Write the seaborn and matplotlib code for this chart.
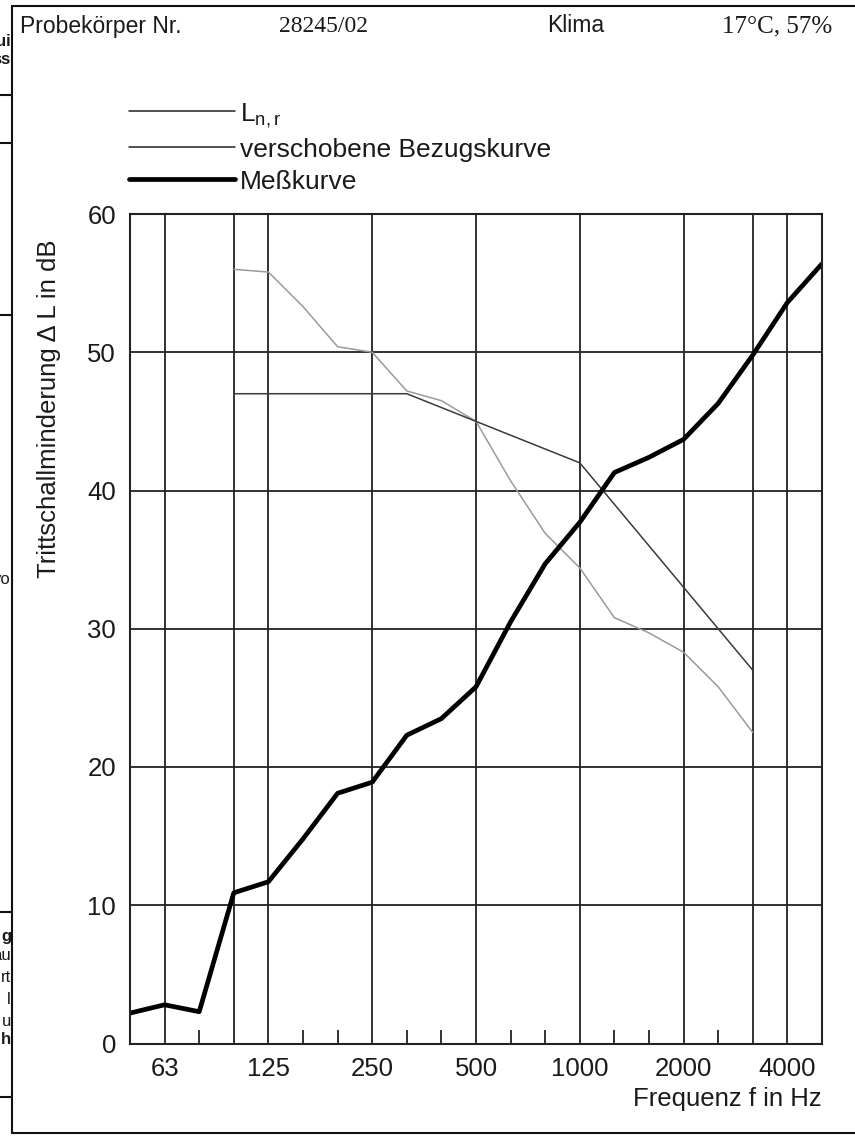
import numpy as np
import pandas as pd
import matplotlib
matplotlib.use("Agg")
import matplotlib.pyplot as plt
from matplotlib.lines import Line2D
from matplotlib import font_manager
import seaborn as sns

# ---------------- data ----------------
bands = ["50", "63", "80", "100", "125", "160", "200", "250", "315", "400", "500",
         "630", "800", "1000", "1250", "1600", "2000", "2500", "3150", "4000", "5000"]
messkurve = [2.2, 2.8, 2.3, 10.9, 11.7, 14.8, 18.1, 18.9, 22.3, 23.5, 25.8,
             30.5, 34.7, 37.7, 41.3, 42.4, 43.7, 46.3, 49.8, 53.6, 56.4]
ref_bands = ["100", "125", "160", "200", "250", "315", "400", "500", "630", "800",
             "1000", "1250", "1600", "2000", "2500", "3150"]
ln_r = [56.0, 55.8, 53.3, 50.4, 50.0, 47.2, 46.5, 45.0, 40.7, 36.9,
        34.4, 30.8, 29.7, 28.3, 25.8, 22.5]
bezugskurve = [47, 47, 47, 47, 47, 47, 46, 45, 44, 43, 42, 39, 36, 33, 30, 27]

labeled_bands = ["63", "125", "250", "500", "1000", "2000", "4000"]
grid_bands = ["63", "100", "125", "250", "500", "1000", "2000", "3150", "4000"]
y_ticks = [0, 10, 20, 30, 40, 50, 60]

legend_labels = ["L$_{\\mathregular{n,r}}$", "verschobene Bezugskurve", "Meßkurve"]

# ---------------- style ----------------
sns.set_theme(style="white")
plt.rcParams["font.family"] = ["Liberation Sans", "DejaVu Sans"]
plt.rcParams["mathtext.fontset"] = "custom"
plt.rcParams["mathtext.rm"] = "Liberation Sans"

installed = {f.name for f in font_manager.fontManager.ttflist}
if "Liberation Sans Narrow" in installed:
    head_family, head_size = ["Liberation Sans Narrow", "DejaVu Sans"], 20
else:
    head_family, head_size = ["Liberation Sans", "DejaVu Sans"], 16.5

TXT = "#1a1a1a"
W, H = 855, 1136
fig = plt.figure(figsize=(W / 100, H / 100), dpi=100)
ax_left, ax_right, ax_top, ax_bottom = 130, 822, 214, 1043.5
ax = fig.add_axes([ax_left / W, 1 - ax_bottom / H,
                   (ax_right - ax_left) / W, (ax_bottom - ax_top) / H])

pos = {b: i for i, b in enumerate(bands)}
df_mess = pd.DataFrame({"x": [pos[b] for b in bands], "y": messkurve})
df_ln = pd.DataFrame({"x": [pos[b] for b in ref_bands], "y": ln_r})
df_bez = pd.DataFrame({"x": [pos[b] for b in ref_bands], "y": bezugskurve})

ax.set_xlim(0, len(bands) - 1)
ax.set_ylim(0, 60)
ax.set_axisbelow(True)

sns.lineplot(data=df_ln, x="x", y="y", ax=ax, color="#9a9a9a", linewidth=1.1)
sns.lineplot(data=df_bez, x="x", y="y", ax=ax, color="#3a3a3a", linewidth=1.1)
sns.lineplot(data=df_mess, x="x", y="y", ax=ax, color="black", linewidth=3.4,
             solid_joinstyle="round")

# ticks / grid
major = [pos[b] for b in grid_bands]
ax.set_xticks(major)
ax.set_xticklabels([b if b in labeled_bands else "" for b in grid_bands], fontsize=18.5)
minor = [i for i in range(1, len(bands) - 1) if i not in major]
ax.set_xticks(minor, minor=True)
ax.tick_params(axis="x", which="major", length=0, pad=10, colors=TXT)
ax.tick_params(axis="x", which="minor", direction="in", length=10, width=1.3,
               color="#222222", bottom=True)
ax.set_yticks(y_ticks)
ax.set_yticklabels([str(v) for v in y_ticks], fontsize=18.5)
ax.tick_params(axis="y", length=0, pad=10, colors=TXT)
ax.grid(True, which="major", color="#222222", linewidth=1.3)

for s in ax.spines.values():
    s.set_visible(True)
    s.set_color("#222222")
    s.set_linewidth(1.5)

ax.set_xlabel("Frequenz f in Hz", fontsize=18.5, loc="right", color=TXT)
ax.xaxis.set_label_coords(1.0, -(1087 - ax_bottom) / (ax_bottom - ax_top))
ax.set_ylabel("Trittschallminderung \u0394 L in dB", fontsize=18.5, color=TXT)
ax.yaxis.set_label_coords((61 - ax_left) / (ax_right - ax_left),
                          (ax_bottom - 409) / (ax_bottom - ax_top))

# legend
handles = [Line2D([], [], color="#222222", linewidth=1.1),
           Line2D([], [], color="#222222", linewidth=1.1),
           Line2D([], [], color="black", linewidth=3.4)]
leg = fig.legend(handles, legend_labels, loc="upper left",
                 bbox_to_anchor=(129 / W, 1 - 101 / H), frameon=False, fontsize=19,
                 handlelength=4.0, handletextpad=0.2, labelspacing=0.3,
                 borderpad=0, borderaxespad=0)
for t in leg.get_texts():
    t.set_color(TXT)

# header
fig.text(20 / W, 1 - 26 / H, "Probekörper Nr.", fontsize=head_size, va="center", ha="left",
         color=TXT, family=head_family)
fig.text(279 / W, 1 - 26 / H, "28245/02", fontsize=17, va="center", ha="left",
         family=["Liberation Serif", "DejaVu Serif"], color=TXT)
fig.text(547 / W, 1 - 26 / H, "Klima", fontsize=head_size, va="center", ha="left",
         color=TXT, family=head_family)
fig.text(722 / W, 1 - 26 / H, "17\u00b0C, 57%", fontsize=18, va="center", ha="left",
         family=["Liberation Serif", "DejaVu Serif"], color=TXT)

# page frame
def fline(x0, y0, x1, y1, lw=1.5):
    fig.add_artist(Line2D([x0 / W, x1 / W], [1 - y0 / H, 1 - y1 / H],
                          transform=fig.transFigure, color="#111111", linewidth=lw))

fline(12, 6, W, 6)
fline(12, 6, 12, 1133)
fline(12, 1133, W, 1133)
# fragments of the neighbouring page at the left edge
for yy in (95, 143, 315, 912, 1097):
    fline(0, yy, 12, yy, lw=1.5)
for txt, yy, bold in [("ui", 42, True), ("ss", 60, True), ("vo", 580, False),
                      ("g", 936, True), ("au", 955, False), ("rt", 978, False),
                      ("l", 1000, False), ("u", 1022, False), ("h", 1040, True)]:
    fig.text(11 / W, 1 - yy / H, txt, fontsize=12, ha="right", va="center",
             fontweight="bold" if bold else "normal", color=TXT)

fig.savefig("out.png", dpi=100)
